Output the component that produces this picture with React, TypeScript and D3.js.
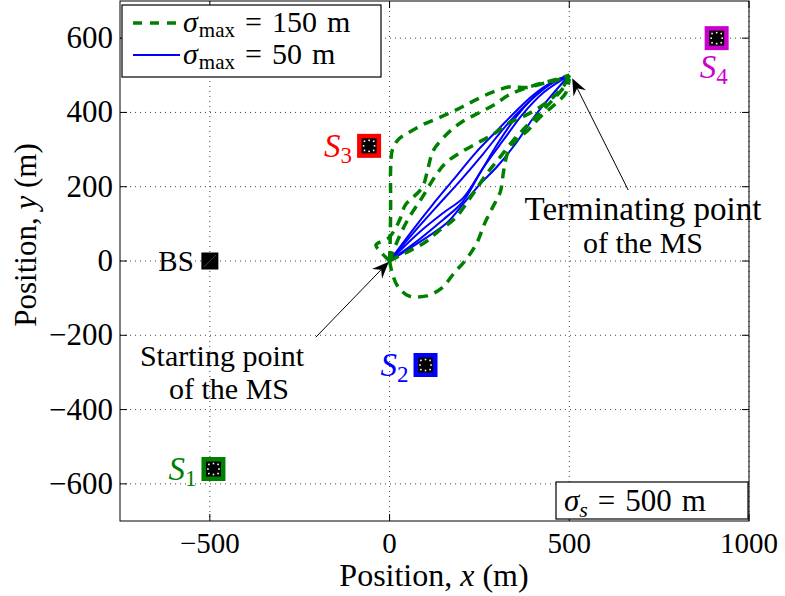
import React from 'react';
import * as d3 from 'd3';

const W = 785;
const H = 596;
const plot = { left: 120, right: 749, top: 1, bottom: 521 };

const xTicks = [-500, 0, 500, 1000];
const yTicks = [-600, -400, -200, 0, 200, 400, 600];

// anchor sensors
const sensorIds = ['1', '2', '3', '4'];
const sensorX = [-490, 100, -57, 910];
const sensorY = [-560, -280, 310, 600];
const sensorColors = ['#008000', '#0000ff', '#ff0000', '#cc00cc'];
const sensorLabelSide = ['left', 'left', 'left', 'below'];

const bs = [-500, 0];

// trajectories, sigma_max = 150 m
const greenPaths: number[][][] = [
  [[0, 0], [2, 70], [3, 160], [3, 250], [8, 300], [25, 328], [52, 345], [97, 369], [143, 388], [190, 409], [234, 431], [285, 454], [336, 469], [382, 467], [427, 478], [466, 487], [500, 500]],
  [[0, 0], [-25, 25], [-38, 43], [-3, 62], [17, 89], [30, 115], [44, 151], [64, 170], [92, 200], [108, 254], [122, 298], [161, 343], [202, 375], [249, 399], [290, 420], [336, 449], [400, 472], [460, 488], [500, 500]],
  [[0, 0], [20, 50], [50, 110], [90, 170], [125, 225], [155, 263], [194, 290], [243, 317], [290, 342], [331, 371], [378, 392], [419, 415], [456, 442], [485, 472], [500, 500]],
  [[0, 0], [30, 15], [61, 30], [100, 51], [133, 78], [183, 116], [230, 178], [272, 237], [303, 274], [340, 320], [380, 362], [420, 400], [460, 440], [490, 475], [500, 500]],
  [[0, 0], [8, -35], [22, -67], [53, -94], [103, -94], [145, -73], [180, -32], [216, 8], [244, 51], [264, 100], [286, 143], [308, 186], [317, 240], [328, 290], [348, 322], [383, 350], [419, 388], [458, 420], [490, 452], [500, 490]],
];

// trajectories, sigma_max = 50 m
const bluePaths: number[][][] = [
  [[0, 0], [60, 78], [120, 152], [180, 222], [240, 292], [300, 352], [350, 402], [400, 447], [450, 480], [500, 500]],
  [[0, 0], [70, 80], [130, 145], [200, 220], [260, 288], [320, 360], [370, 412], [420, 456], [465, 486], [500, 500]],
  [[0, 0], [80, 75], [150, 130], [205, 170], [250, 235], [300, 315], [350, 385], [400, 440], [450, 478], [500, 500]],
  [[0, 0], [85, 60], [150, 112], [195, 150], [215, 175], [260, 250], [320, 330], [370, 395], [430, 455], [500, 500]],
  [[0, 0], [85, 52], [159, 102], [206, 155], [250, 205], [300, 255], [350, 315], [400, 385], [450, 445], [500, 500]],
];

const legendLabels = ['150', '50'];
const legendColors = ['#008000', '#0000ff'];
const legendDash = ['9 8', 'none'];
const legendWidth = [3.5, 2];

const x = d3.scaleLinear().domain([-750, 1000]).range([plot.left, plot.right]);
const y = d3.scaleLinear().domain([-700, 700]).range([plot.bottom, plot.top]);

const line = d3.line<number[]>()
  .x(d => x(d[0]))
  .y(d => y(d[1]))
  .curve(d3.curveCatmullRom.alpha(0.5));

const font = '"Liberation Serif", "Times New Roman", serif';
const fmt = (t: number) => (t < 0 ? '\u2212' + Math.abs(t) : String(t));

function Arrow({ from, to }: { from: number[]; to: number[] }) {
  const x1 = x(from[0]), y1 = y(from[1]);
  const x2 = x(to[0]), y2 = y(to[1]);
  const L = Math.hypot(x2 - x1, y2 - y1);
  const ux = (x2 - x1) / L, uy = (y2 - y1) / L;
  const px = -uy, py = ux;
  const len = 17, half = 7;
  const bx = x2 - ux * len, by = y2 - uy * len;
  const ix = x2 - ux * len * 0.65, iy = y2 - uy * len * 0.65;
  const head = `M${x2},${y2}L${bx + px * half},${by + py * half}L${ix},${iy}L${bx - px * half},${by - py * half}Z`;
  return (
    <g>
      <line x1={x1} y1={y1} x2={ix} y2={iy} stroke="#000" strokeWidth={1} />
      <path d={head} fill="#000" />
    </g>
  );
}

function Sensor({ i }: { i: number }) {
  const cx = x(sensorX[i]), cy = y(sensorY[i]);
  const col = sensorColors[i];
  const dots = d3.range(8).map(k => {
    const a = (k * Math.PI) / 4;
    const r = k % 2 === 0 ? 5.5 : 6.5;
    return [cx + r * Math.cos(a), cy + r * Math.sin(a)];
  });
  const side = sensorLabelSide[i];
  const lx = side === 'left' ? cx - 17 : cx - 3;
  const ly = side === 'left' ? cy + 11 : cy + 40;
  return (
    <g>
      <rect x={cx - 12} y={cy - 12} width={24} height={24} fill={col} />
      <rect x={cx - 7.5} y={cy - 7.5} width={15} height={15} fill="#000" />
      {dots.map((d, k) => <rect key={k} x={d[0] - 0.8} y={d[1] - 0.8} width={1.6} height={1.6} fill="#fff" />)}
      <text x={lx} y={ly} fill={col} fontSize={33} textAnchor={side === 'left' ? 'end' : 'middle'} fontFamily={font}>
        <tspan fontStyle="italic">S</tspan>
        <tspan fontSize={23} dy={6}>{sensorIds[i]}</tspan>
      </text>
    </g>
  );
}

export default function App() {
  const bx = x(bs[0]), by = y(bs[1]);
  return (
    <svg width={W} height={H} style={{ position: 'absolute', left: 0, top: 0, background: '#fff' }} fontFamily={font}>
      <rect x={0} y={0} width={W} height={H} fill="#fff" />
      {/* grid */}
      {xTicks.map(t => (
        <line key={'gx' + t} x1={x(t)} x2={x(t)} y1={plot.top} y2={plot.bottom} stroke="#444" strokeWidth={1} strokeDasharray="1 4" />
      ))}
      {yTicks.map(t => (
        <line key={'gy' + t} x1={plot.left} x2={plot.right} y1={y(t)} y2={y(t)} stroke="#444" strokeWidth={1} strokeDasharray="1 4" />
      ))}
      {/* ticks */}
      {xTicks.map(t => (
        <g key={'tx' + t}>
          <line x1={x(t)} x2={x(t)} y1={plot.bottom} y2={plot.bottom - 7} stroke="#000" />
          <line x1={x(t)} x2={x(t)} y1={plot.top} y2={plot.top + 7} stroke="#000" />
          <text x={x(t)} y={plot.bottom + 32} fontSize={29} textAnchor="middle">{fmt(t)}</text>
        </g>
      ))}
      {yTicks.map(t => (
        <g key={'ty' + t}>
          <line x1={plot.left} x2={plot.left + 7} y1={y(t)} y2={y(t)} stroke="#000" />
          <line x1={plot.right} x2={plot.right - 7} y1={y(t)} y2={y(t)} stroke="#000" />
          <text x={plot.left - 7} y={y(t) + 10} fontSize={31} textAnchor="end">{fmt(t)}</text>
        </g>
      ))}

      {/* trajectories */}
      {bluePaths.map((p, k) => (
        <path key={'b' + k} d={line(p) || ''} fill="none" stroke="#0000ff" strokeWidth={2} />
      ))}
      {greenPaths.map((p, k) => (
        <path key={'g' + k} d={line(p) || ''} fill="none" stroke="#008000" strokeWidth={3.5} strokeDasharray="10 7" />
      ))}

      {/* BS */}
      <rect x={bx - 8.5} y={by - 8.5} width={17} height={17} fill="#000" />
      <line x1={bx - 6} y1={by + 6} x2={bx + 6} y2={by - 6} stroke="#555" strokeWidth={0.8} />
      <text x={bx - 16} y={by + 10} fontSize={29} textAnchor="end">BS</text>

      {sensorIds.map((_, i) => <Sensor key={i} i={i} />)}

      {/* annotations */}
      <Arrow from={[-205, -205]} to={[-2, -2]} />
      <text x={222} y={366} fontSize={30} textAnchor="middle">Starting point</text>
      <text x={229} y={399} fontSize={30} textAnchor="middle">of the MS</text>
      <Arrow from={[664, 191]} to={[508, 492]} />
      <text x={643} y={220} fontSize={33} textAnchor="middle">Terminating point</text>
      <text x={643} y={253} fontSize={30} textAnchor="middle">of the MS</text>

      {/* frame */}
      <rect x={plot.left} y={plot.top} width={plot.right - plot.left} height={plot.bottom - plot.top} fill="none" stroke="#000" strokeWidth={1} />

      {/* legend */}
      <rect x={122} y={5} width={259} height={72} fill="#fff" stroke="#000" strokeWidth={1.2} />
      {legendLabels.map((lab, i) => (
        <g key={'lg' + i}>
          <line x1={133} x2={180} y1={23 + i * 32} y2={23 + i * 32} stroke={legendColors[i]} strokeWidth={legendWidth[i]}
            strokeDasharray={legendDash[i] === 'none' ? undefined : legendDash[i]} />
          <text x={183} y={32 + i * 32} fontSize={30}>
            <tspan fontStyle="italic">σ</tspan>
            <tspan fontSize={21} dy={5} dx={1}>max</tspan>
            <tspan dy={-5} dx={10}>=</tspan>
            <tspan dx={10}>{lab}</tspan>
            <tspan dx={10}>m</tspan>
          </text>
        </g>
      ))}

      {/* sigma_s box */}
      <rect x={556} y={482} width={192} height={37} fill="#fff" stroke="#000" strokeWidth={1.2} />
      <text x={564} y={511} fontSize={31}>
        <tspan fontStyle="italic">σ</tspan>
        <tspan fontSize={22} dy={6} fontStyle="italic">s</tspan>
        <tspan dy={-6} dx={10}>=</tspan>
        <tspan dx={10}>500</tspan>
        <tspan dx={10}>m</tspan>
      </text>

      {/* axis labels */}
      <text x={434} y={586} fontSize={32} textAnchor="middle">
        Position, <tspan fontStyle="italic">x</tspan> (m)
      </text>
      <text transform={`translate(36, 235) rotate(-90)`} fontSize={31} textAnchor="middle">
        Position, <tspan fontStyle="italic">y</tspan> (m)
      </text>
    </svg>
  );
}
